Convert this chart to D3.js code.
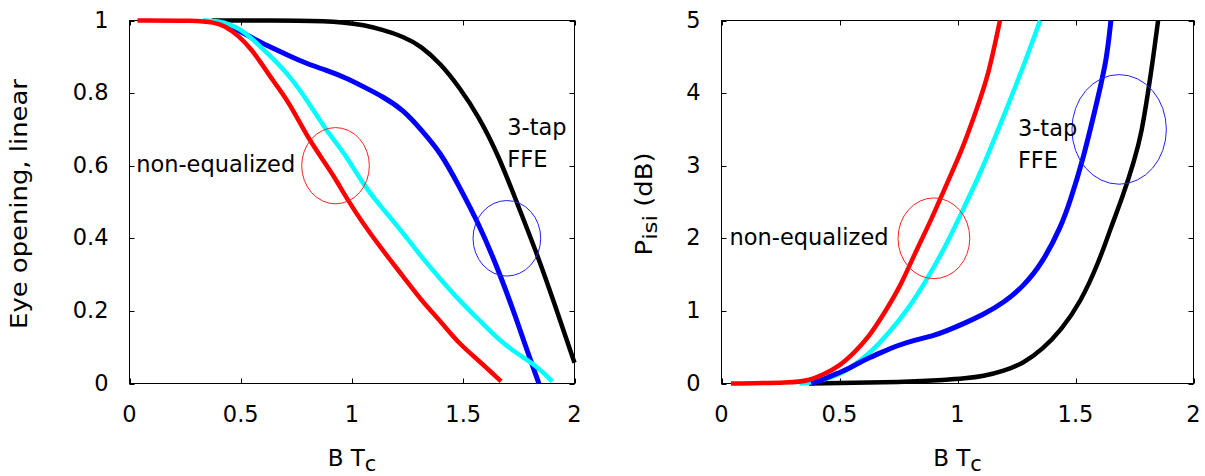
<!DOCTYPE html>
<html>
<head>
<meta charset="utf-8">
<script src="https://cdn.jsdelivr.net/npm/d3@7"></script>
<style>
  html, body { margin: 0; padding: 0; background: #fff; }
  svg { display: block; }
  text { font-family: "DejaVu Sans", Verdana, sans-serif; fill: #000; }
</style>
</head>
<body>
<svg id="chart" width="1205" height="476"></svg>
<script>
// ---------- data ----------
const xTicks = [0, 0.5, 1, 1.5, 2];
const xTickLabels = ["0", "0.5", "1", "1.5", "2"];
const eyeTicks = [0, 0.2, 0.4, 0.6, 0.8, 1];
const eyeTickLabels = ["0", "0.2", "0.4", "0.6", "0.8", "1"];
const isiTicks = [0, 1, 2, 3, 4, 5];
const isiTickLabels = ["0", "1", "2", "3", "4", "5"];

// Eye opening (linear) vs B*Tc
const eyeBlack = [[0.37,1],[0.8,1],[0.97,0.995],[1.05,0.988],[1.14,0.974],[1.23,0.956],[1.31,0.93],[1.40,0.88],[1.48,0.818],[1.57,0.736],[1.66,0.626],[1.74,0.50],[1.83,0.36],[1.91,0.22],[2.0,0.057]];
const eyeBlue  = [[0.40,1],[0.45,0.985],[0.54,0.956],[0.62,0.93],[0.71,0.905],[0.80,0.88],[0.88,0.864],[0.97,0.843],[1.05,0.818],[1.14,0.79],[1.23,0.754],[1.31,0.70],[1.40,0.635],[1.48,0.545],[1.57,0.44],[1.66,0.31],[1.74,0.176],[1.79,0.085],[1.84,0]];
const eyeCyan  = [[0.33,1],[0.40,0.998],[0.45,0.99],[0.50,0.975],[0.54,0.956],[0.62,0.91],[0.71,0.855],[0.80,0.78],[0.88,0.70],[0.97,0.632],[1.05,0.548],[1.14,0.48],[1.23,0.415],[1.31,0.35],[1.40,0.286],[1.48,0.23],[1.57,0.176],[1.66,0.12],[1.74,0.083],[1.83,0.048],[1.90,0.006]];
const eyeRed   = [[0.036,1],[0.30,1],[0.38,0.995],[0.43,0.985],[0.49,0.958],[0.55,0.92],[0.60,0.875],[0.65,0.83],[0.71,0.78],[0.76,0.725],[0.81,0.67],[0.87,0.615],[0.92,0.57],[0.98,0.506],[1.05,0.44],[1.14,0.365],[1.23,0.295],[1.31,0.23],[1.40,0.17],[1.48,0.11],[1.57,0.063],[1.67,0.006]];

// P_isi (dB) vs B*Tc
const isiBlack = [[0.37,0],[0.79,0.02],[0.95,0.05],[1.03,0.07],[1.11,0.1],[1.195,0.17],[1.28,0.28],[1.36,0.47],[1.44,0.74],[1.52,1.11],[1.60,1.68],[1.65,2.15],[1.70,2.57],[1.75,3.08],[1.78,3.45],[1.807,4.0],[1.828,4.46],[1.85,5.0]];
const isiBlue  = [[0.38,0],[0.42,0.04],[0.46,0.1],[0.50,0.15],[0.53,0.19],[0.58,0.28],[0.63,0.36],[0.672,0.42],[0.75,0.53],[0.82,0.60],[0.90,0.66],[0.95,0.72],[1.03,0.83],[1.11,0.95],[1.195,1.11],[1.28,1.34],[1.36,1.66],[1.44,2.17],[1.476,2.5],[1.532,3.08],[1.60,4.0],[1.631,4.46],[1.645,4.85],[1.65,5.0]];
const isiCyan  = [[0.33,0],[0.40,0.02],[0.46,0.08],[0.50,0.13],[0.545,0.21],[0.63,0.42],[0.71,0.70],[0.79,1.02],[0.87,1.43],[0.95,1.89],[1.03,2.44],[1.11,2.99],[1.195,3.68],[1.28,4.37],[1.35,5.0]];
const isiRed   = [[0.04,0],[0.30,0.01],[0.37,0.04],[0.43,0.12],[0.50,0.24],[0.56,0.42],[0.62,0.62],[0.69,0.97],[0.76,1.35],[0.82,1.8],[0.89,2.26],[0.95,2.72],[1.02,3.22],[1.08,3.77],[1.13,4.23],[1.18,5.0]];

// annotation ellipses: [cx, cy, rx, ry] in data units
const eyeEllipseRed  = [0.926, 0.6, 0.152, 0.105];
const eyeEllipseBlue = [1.696, 0.4, 0.152, 0.104];
const isiEllipseRed  = [0.90, 2.0, 0.152, 0.556];
const isiEllipseBlue = [1.685, 3.5, 0.20, 0.755];

// annotation texts: [x, y] in data units
const eyeNonEqPos = [0.03, 0.6];
const eyeFfePos   = [1.698, 0.685];
const isiNonEqPos = [0.034, 2.0];
const isiFfePos   = [1.256, 3.41];

// ---------- drawing ----------
const svg = d3.select("#chart");
const FS = 22.5;

function panel(opts) {
  const x = d3.scaleLinear().domain([0, 2]).range([opts.left, opts.right]);
  const y = d3.scaleLinear().domain(opts.yDomain).range([opts.bottom, opts.top]);
  const g = svg.append("g");

  // frame
  g.append("rect")
    .attr("x", opts.left).attr("y", opts.top)
    .attr("width", opts.right - opts.left).attr("height", opts.bottom - opts.top)
    .attr("fill", "none").attr("stroke", "#000").attr("stroke-width", 1);

  // ticks (inward, all four sides)
  const tl = 5;
  xTicks.forEach((t, i) => {
    const px = Math.round(x(t)) + 0.5;
    g.append("line").attr("x1", px).attr("x2", px).attr("y1", opts.bottom).attr("y2", opts.bottom - tl).attr("stroke", "#000");
    g.append("line").attr("x1", px).attr("x2", px).attr("y1", opts.top).attr("y2", opts.top + tl).attr("stroke", "#000");
    g.append("text").attr("x", x(t)).attr("y", opts.bottom + 38.5)
      .attr("text-anchor", "middle").attr("font-size", FS).text(xTickLabels[i]);
  });
  opts.yTicks.forEach((t, i) => {
    const py = Math.round(y(t)) + 0.5;
    g.append("line").attr("x1", opts.left).attr("x2", opts.left + tl).attr("y1", py).attr("y2", py).attr("stroke", "#000");
    g.append("line").attr("x1", opts.right).attr("x2", opts.right - tl).attr("y1", py).attr("y2", py).attr("stroke", "#000");
    g.append("text").attr("x", opts.left - 21).attr("y", y(t) + 7)
      .attr("text-anchor", "end").attr("font-size", FS).text(opts.yTickLabels[i]);
  });

  // x axis title: B T_c
  const xt = g.append("text").attr("x", 0).attr("y", 466)
    .attr("text-anchor", "start").attr("font-size", 23);
  xt.append("tspan").text("B T");
  xt.append("tspan").attr("dy", 4.5).attr("font-size", 21).text("c");
  const bb = xt.node().getBBox();
  xt.attr("x", x(1) - bb.width / 2);

  // y axis title (stretched along its length like the reference)
  const yt = g.append("text")
    .attr("transform", `translate(${opts.yTitleX},${(opts.top + opts.bottom) / 2 + 2}) rotate(-90) scale(1.15,1)`)
    .attr("text-anchor", "middle").attr("font-size", FS);
  opts.yTitle(yt);

  // curves
  const line = d3.line().x(d => x(d[0])).y(d => y(d[1])).curve(d3.curveBasis);
  opts.series.forEach(s => {
    g.append("path").datum(s.data).attr("d", line)
      .attr("fill", "none").attr("stroke", s.color).attr("stroke-width", s.w)
      .attr("stroke-linejoin", "round").attr("stroke-linecap", "butt");
  });

  // ellipses
  opts.ellipses.forEach(e => {
    const [cx, cy, rx, ry] = e.d;
    g.append("ellipse")
      .attr("cx", x(cx)).attr("cy", y(cy))
      .attr("rx", Math.abs(x(rx) - x(0))).attr("ry", Math.abs(y(ry) - y(0)))
      .attr("fill", "none").attr("stroke", e.color).attr("stroke-width", 1);
  });

  // annotations
  g.append("text").attr("x", x(opts.nonEq[0])).attr("y", y(opts.nonEq[1]) + 6.5)
    .attr("font-size", FS).text("non-equalized");
  g.append("text").attr("x", x(opts.ffe[0])).attr("y", y(opts.ffe[1]))
    .attr("font-size", FS).text("3-tap");
  g.append("text").attr("x", x(opts.ffe[0])).attr("y", y(opts.ffe[1]) + 32)
    .attr("font-size", FS).text("FFE");
}

panel({
  left: 129.5, right: 574.5, top: 20.5, bottom: 383.5,
  yDomain: [0, 1], yTicks: eyeTicks, yTickLabels: eyeTickLabels,
  yTitleX: 27,
  yTitle: t => t.text("Eye opening, linear"),
  series: [
    { data: eyeBlack, color: "#000000", w: 4.5 },
    { data: eyeBlue,  color: "#0000ff", w: 5 },
    { data: eyeCyan,  color: "#00ffff", w: 4.5 },
    { data: eyeRed,   color: "#ff0000", w: 4.5 }
  ],
  ellipses: [ { d: eyeEllipseRed, color: "#ff2020" }, { d: eyeEllipseBlue, color: "#2020ff" } ],
  nonEq: eyeNonEqPos, ffe: eyeFfePos
});

panel({
  left: 721.5, right: 1193.5, top: 20.5, bottom: 383.5,
  yDomain: [0, 5], yTicks: isiTicks, yTickLabels: isiTickLabels,
  yTitleX: 652,
  yTitle: t => {
    t.append("tspan").text("P");
    t.append("tspan").attr("dy", 5).attr("font-size", 20).text("isi");
    t.append("tspan").attr("dy", -5).text(" (dB)");
  },
  series: [
    { data: isiBlack, color: "#000000", w: 4.5 },
    { data: isiCyan,  color: "#00ffff", w: 4.5 },
    { data: isiBlue,  color: "#0000ff", w: 5 },
    { data: isiRed,   color: "#ff0000", w: 4.5 }
  ],
  ellipses: [ { d: isiEllipseRed, color: "#ff2020" }, { d: isiEllipseBlue, color: "#2020ff" } ],
  nonEq: isiNonEqPos, ffe: isiFfePos
});
</script>
</body>
</html>
